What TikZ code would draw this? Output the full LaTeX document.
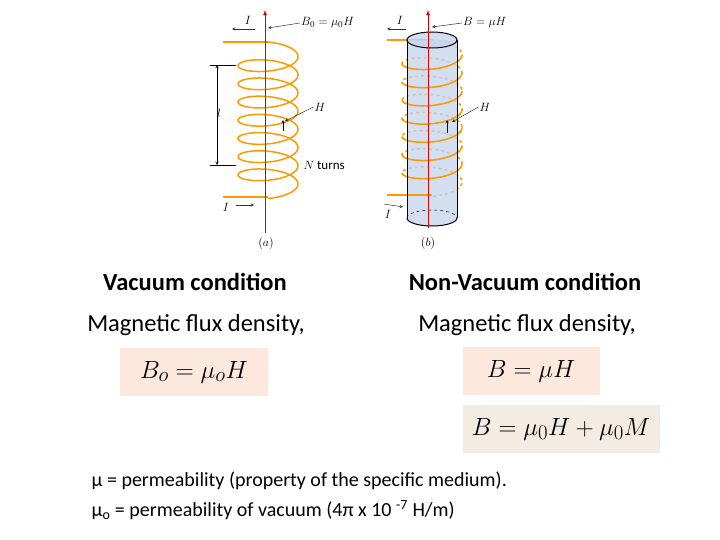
\documentclass[tikz,border=0pt]{standalone}
\usepackage{fontspec}
\setmainfont{Carlito}
\begin{document}
\begin{tikzpicture}[x=1pt,y=-1pt,
  coil/.style={draw=orange!80!yellow,line width=1.5pt},
  axis/.style={draw=red!85!black,line width=0.8pt,-{latex}},
  lbl/.style={font=\itshape\fontsize{13}{15}\selectfont,inner sep=1pt},
  pt/.style={draw=black!80,line width=0.5pt,-{stealth}},
  big/.style={font=\fontsize{24.5}{28}\selectfont},
  bigb/.style={font=\bfseries\fontsize{24.5}{28}\selectfont},
  small/.style={font=\fontsize{20}{24}\selectfont},
  box/.style={minimum height=48pt,font=\fontsize{28}{32}\selectfont}]
\useasboundingbox (0,0) rectangle (720,540);
\definecolor{peach}{RGB}{252,232,220}
\definecolor{beige}{RGB}{242,236,226}
\definecolor{cyl}{RGB}{196,212,236}
% coil a
\draw[coil] (223,42) -- (268,42);
\draw[coil] plot[domain=0:2700,samples=500,smooth] ({268+30*sin(\x)},{52+\x/360*18.2-10*cos(\x)});
\draw[coil] (223,197) -- (268,197);
\draw[axis] (265,233) -- (265,10);
\draw[line width=0.5pt] (210,65) -- (236,65) (210,165) -- (236,165);
\draw[{stealth}-{stealth},line width=0.5pt] (217,65) -- (217,165);
\node[lbl] (l) at (219,113) {$l$};
\node[lbl] (ta) at (248,20) {$I$};
\draw[pt] (255,29) -- (232,29);
\node[lbl] (ba) at (226,207) {$I$};
\draw[pt] (236,205) -- (254,205);
\node[lbl,anchor=west] (B0) at (300,23) {$B_0 = \mu_0 H$};
\draw[pt] (B0.west) -- (268,28);
\node[lbl] (Ha) at (320,107) {$H$};
\draw[pt] (Ha.west) -- (285,121);
\draw[pt,draw=blue!40!black] (283,131) -- (283,120);
\node[font=\fontsize{13}{15}\selectfont,anchor=west] (Na) at (300,165) {$N$ turns};
\node[lbl] (a) at (266,244) {$(a)$};
% coil b
\draw[coil] (387,40) -- (432,40);
\draw[coil,dashed] plot[domain=0:2700,samples=500,smooth] ({432+30*sin(\x)},{50+\x/360*18.2-10*cos(\x)});
\fill[cyl,opacity=0.75] (407,40) -- (407,218) arc[start angle=180,end angle=360,x radius=25,y radius=-8] -- (457,40) -- cycle;
\fill[cyl,opacity=0.75] (432,40) ellipse[x radius=25,y radius=8];
\foreach \k in {0,...,6}{
  \draw[coil] plot[domain=90+360*\k:270+360*\k,samples=60,smooth] ({432+30*sin(\x)},{50+\x/360*18.2-10*cos(\x)});
}
\draw[coil] (387,195) -- (432,195);
\draw[coil] (387,40) -- (407,40);
\draw[line width=1pt] (432,40) ellipse[x radius=25,y radius=8];
\draw[line width=1pt] (407,40) -- (407,218) (457,40) -- (457,218);
\draw[line width=1pt] (407,218) arc[start angle=180,end angle=360,x radius=25,y radius=-8];
\draw[dashed,line width=0.5pt] (407,218) arc[start angle=180,end angle=0,x radius=25,y radius=-8];
\draw[axis] (428,228) -- (428,10);
\node[lbl] (tb) at (400,20) {$I$};
\draw[pt] (406,29) -- (387,29);
\node[lbl] (bb) at (388,214) {$I$};
\draw[pt] (384,204) -- (403,207);
\node[lbl,anchor=west] (Bb) at (462,23) {$B = \mu H$};
\draw[pt] (Bb.west) -- (432,27);
\node[lbl] (Hb) at (485,107) {$H$};
\draw[pt] (Hb.west) -- (452,122);
\draw[pt,draw=blue!40!black] (447,133) -- (447,120);
\node[lbl] (b) at (428,244) {$(b)$};
% texts
\node[bigb] (v) at (195,282) {Vacuum condition};
\node[bigb] (nv) at (525,282) {Non-Vacuum condition};
\node[big] (m1) at (196,325) {Magnetic flux density,};
\node[big] (m2) at (527,325) {Magnetic flux density,};
\node[box,fill=peach,minimum width=148pt] (f1) at (194,372) {$B_o = \mu_o H$};
\node[box,fill=peach,minimum width=137pt] (f2) at (531,371) {$B = \mu H$};
\node[box,fill=beige,minimum width=197pt] (f3) at (561,429) {$B = \mu_0 H + \mu_0 M$};
\node[small,anchor=west] (t1) at (88,481) {µ = permeability (property of the specific medium).};
\node[small,anchor=west] (t2) at (88,510) {µ\textsubscript{o} = permeability of vacuum (4π x 10 \textsuperscript{-7} H/m)};
\end{tikzpicture}
\end{document}
